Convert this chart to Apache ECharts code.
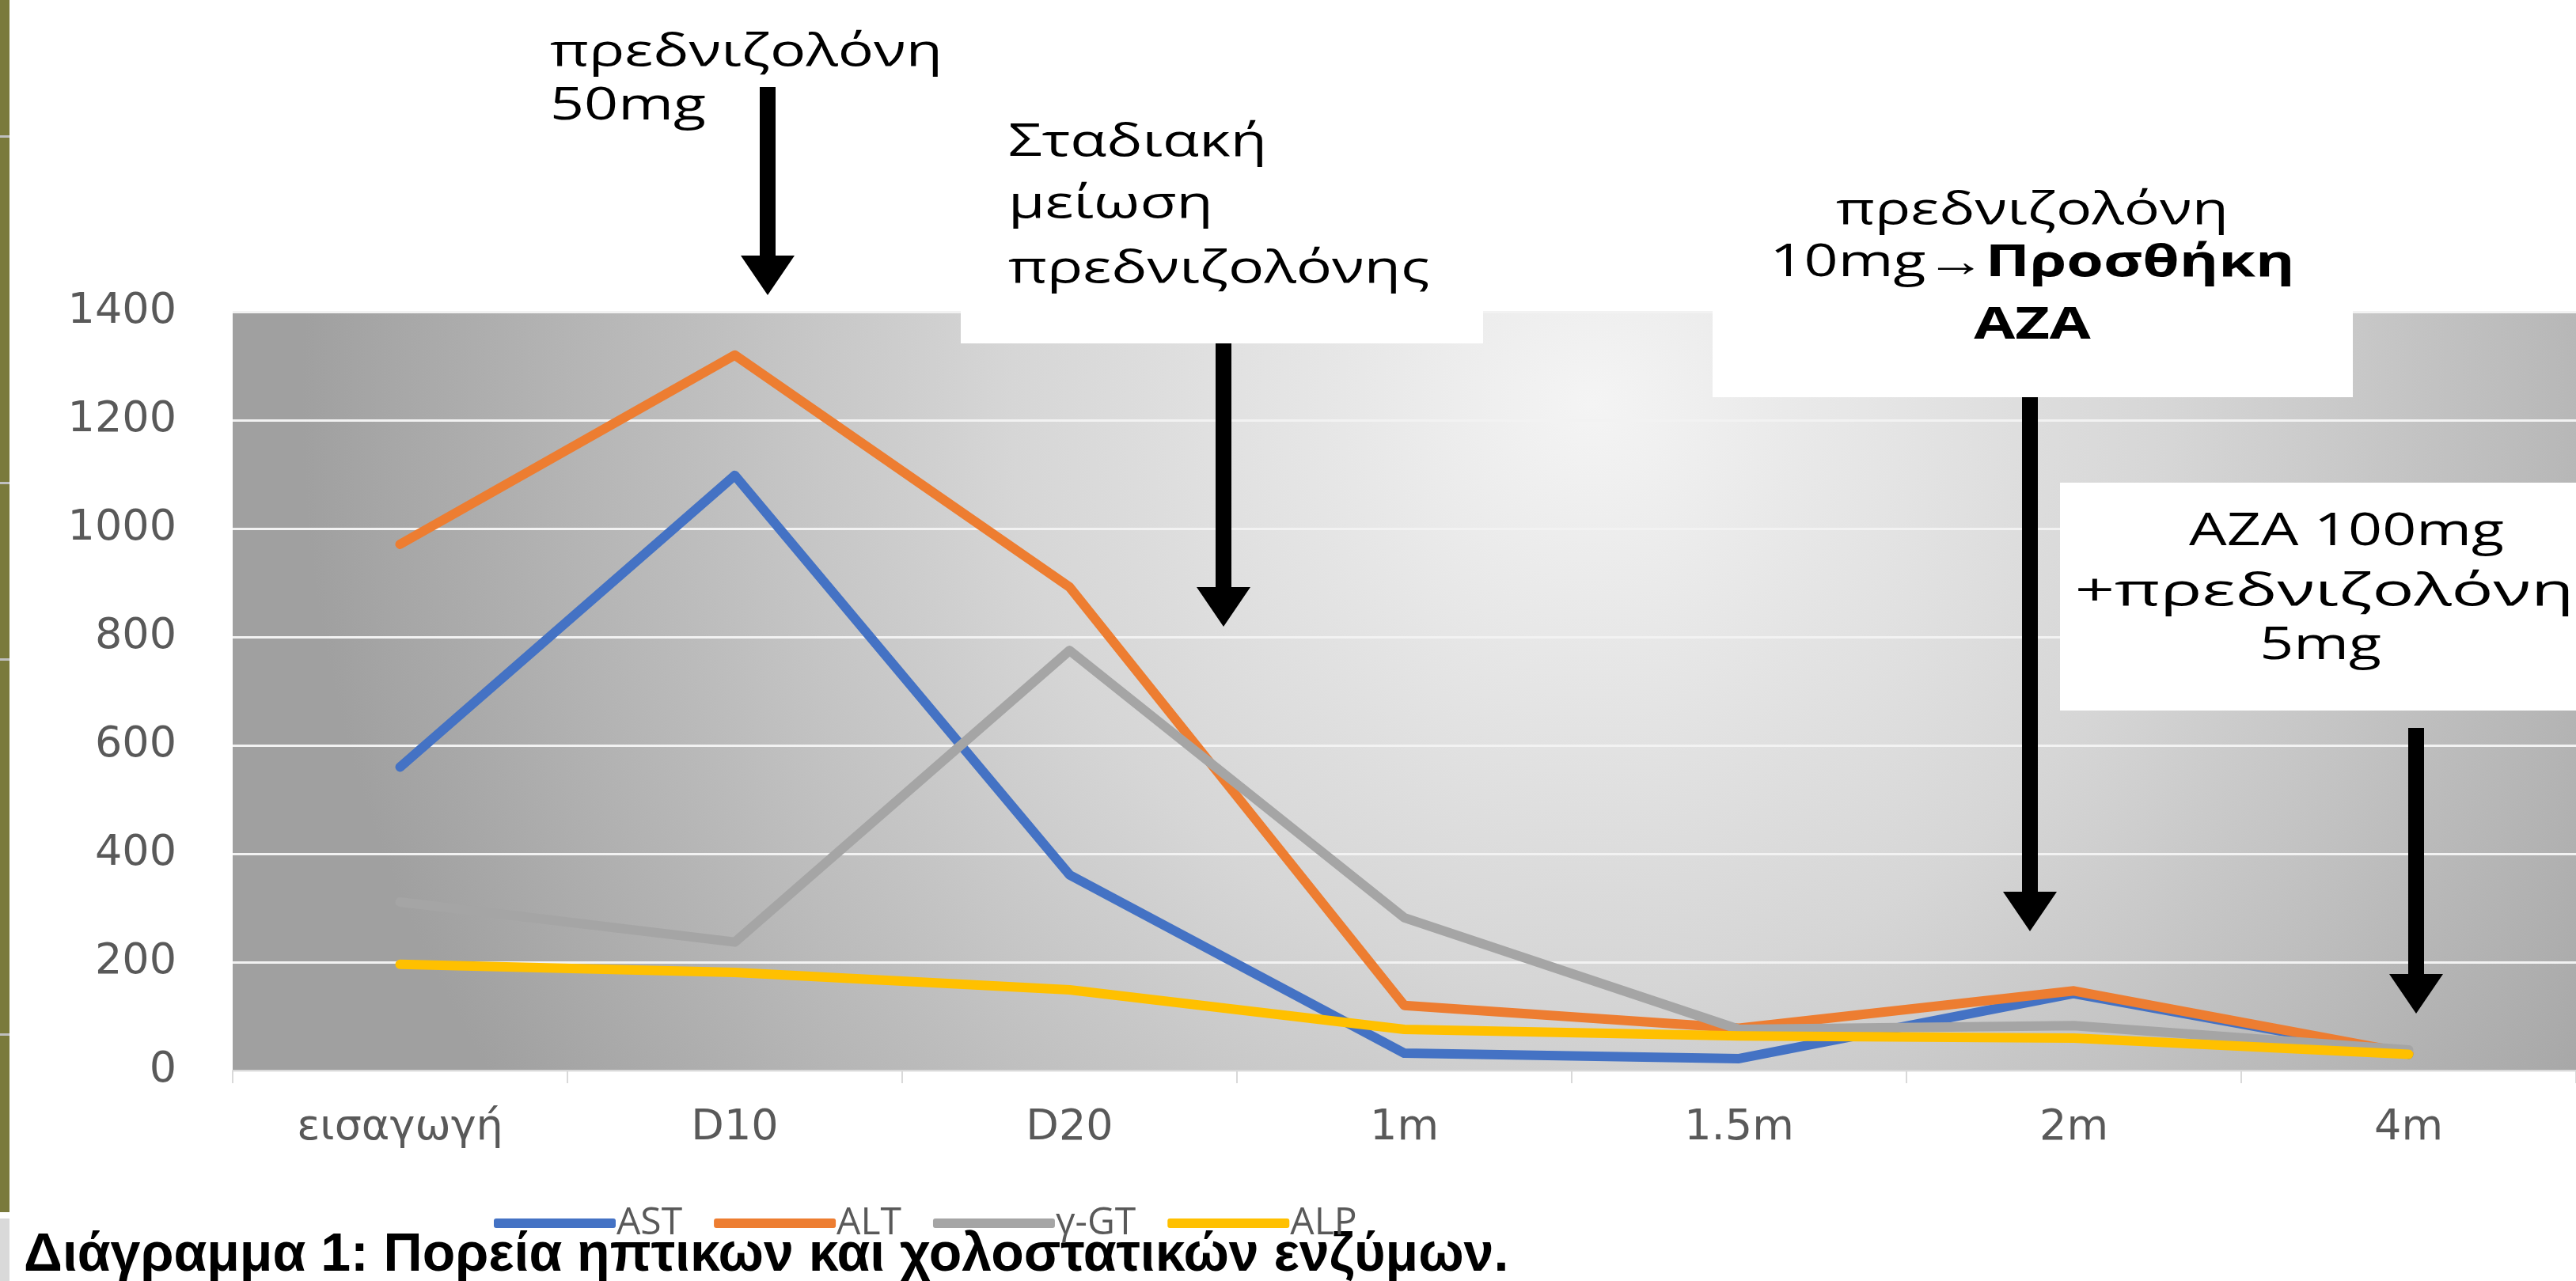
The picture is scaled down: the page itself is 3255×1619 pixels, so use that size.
<!DOCTYPE html>
<html>
<head>
<meta charset="utf-8">
<script src="https://cdn.jsdelivr.net/npm/echarts@6/dist/echarts.min.js"></script>
<style>
html,body{margin:0;padding:0;background:#fff;}
#chart{width:3255px;height:1619px;}
</style>
</head>
<body>
<div id="chart"></div>
<script>
// ---- data ----
const categories = ['εισαγωγή', 'D10', 'D20', '1m', '1.5m', '2m', '4m'];
const seriesNames = ['AST', 'ALT', 'γ-GT', 'ALP'];
const AST  = [560, 1098, 361, 32, 22, 142, 30];
const ALT  = [971, 1320, 892, 120, 78, 147, 32];
const GGT  = [311, 237, 775, 282, 76, 83, 38];
const ALP  = [196, 181, 149, 76, 64, 60, 30];
const yTicks = { min: 0, max: 1400, interval: 200 };
const captionText = 'Διάγραμμα 1: Πορεία ηπτικων και χολοστατικών ενζύμων.';
const notes = {
  n1: ['πρεδνιζολόνη', '50mg'],
  n2: ['Σταδιακή', 'μείωση', 'πρεδνιζολόνης'],
  n3: ['πρεδνιζολόνη', '10mg→', 'Προσθήκη', 'AZA'],
  n4: ['AZA 100mg', '+πρεδνιζολόνη', '5mg']
};

// ---- styling ----
const colors = ['#4472C4', '#ED7D31', '#A5A5A5', '#FFC000'];
const labelColor = '#595959';
const noteFont = 'Open Sans';
const noteSize = 56;
const ctx = document.createElement('canvas').getContext('2d');
ctx.font = noteSize + 'px "' + noteFont + '"';
const sx = 496 / ctx.measureText('πρεδνιζολόνη').width;

function noteText(x, baseline, text, align, bold, extraScale) {
  return {
    type: 'text', x: x, y: baseline - 0.33 * noteSize, scaleX: sx * (extraScale || 1), z: 30,
    style: {
      text: text, fill: '#000', fontSize: noteSize, fontFamily: noteFont,
      fontWeight: bold ? 'bold' : 'normal', align: align, verticalAlign: 'middle'
    }
  };
}
function arrow(x, top, tip) {
  const sw = 10, hw = 34, hh = 50;
  return {
    type: 'polygon', z: 25,
    shape: { points: [[x - sw, top], [x + sw, top], [x + sw, tip - hh], [x + hw, tip - hh], [x, tip], [x - hw, tip - hh], [x - sw, tip - hh]] },
    style: { fill: '#000' }
  };
}
function box(x, y, w, h) {
  return { type: 'rect', z: 20, shape: { x: x, y: y, width: w, height: h }, style: { fill: '#fff' } };
}

const chart = echarts.init(document.getElementById('chart'), null, { renderer: 'canvas' });

const graphics = [
  { type: 'rect', z: 5, shape: { x: 0, y: 0, width: 12, height: 1532 }, style: { fill: '#7A7A3C' } },
  { type: 'rect', z: 6, shape: { x: 0, y: 171, width: 12, height: 3 }, style: { fill: '#BFBFBF' } },
  { type: 'rect', z: 6, shape: { x: 0, y: 609, width: 12, height: 3 }, style: { fill: '#BFBFBF' } },
  { type: 'rect', z: 6, shape: { x: 0, y: 832, width: 12, height: 3 }, style: { fill: '#BFBFBF' } },
  { type: 'rect', z: 6, shape: { x: 0, y: 1306, width: 12, height: 3 }, style: { fill: '#BFBFBF' } },
  { type: 'rect', z: 5, shape: { x: 0, y: 1540, width: 12, height: 79 }, style: { fill: '#D9D9D9' } },
  box(1214, 360, 660, 74),
  box(2164, 360, 809, 142),
  box(2603, 610, 700, 288),
  arrow(970, 110, 373),
  arrow(1546, 434, 792),
  arrow(2565, 502, 1177),
  arrow(3053, 920, 1281),
  noteText(695, 86, notes.n1[0], 'left'),
  noteText(695, 154, notes.n1[1], 'left'),
  noteText(1274, 200, notes.n2[0], 'left'),
  noteText(1274, 278, notes.n2[1], 'left'),
  noteText(1274, 360, notes.n2[2], 'left'),
  noteText(2568, 286, notes.n3[0], 'center'),
  {
    type: 'text', x: 2568, y: 352 - 0.33 * noteSize, scaleX: sx, z: 30,
    style: {
      text: '{n|' + notes.n3[1] + '}{b|' + notes.n3[2] + '}',
      fontSize: noteSize, fontFamily: noteFont, align: 'center', verticalAlign: 'middle', fill: '#000',
      rich: {
        n: { fontSize: noteSize, fontFamily: noteFont, fill: '#000' },
        b: { fontSize: noteSize, fontFamily: noteFont, fontWeight: 'bold', fill: '#000' }
      }
    }
  },
  noteText(2568, 431, notes.n3[3], 'center', true),
  noteText(2965, 692, notes.n4[0], 'center'),
  noteText(2937, 768, notes.n4[1], 'center', false, 1.17),
  noteText(2932, 836, notes.n4[2], 'center')
];

const data = [AST, ALT, GGT, ALP];
const option = {
  animation: false,
  backgroundColor: '#ffffff',
  color: colors,
  title: {
    text: captionText, left: 30, top: 1553, padding: 0, z: 4,
    textStyle: { fontFamily: 'Liberation Sans', fontWeight: 'bold', fontSize: 68, color: '#000' }
  },
  legend: {
    data: seriesNames, left: 619, top: 1517, z: 12,
    icon: 'roundRect', itemWidth: 154, itemHeight: 12, itemGap: 40,
    textStyle: { color: labelColor, fontSize: 48, fontFamily: 'Open Sans', padding: [0, 0, 0, -4] }
  },
  grid: {
    left: 294, top: 394, width: 2975, height: 959, show: true, borderWidth: 0,
    backgroundColor: {
      type: 'radial', x: 0.58, y: 0.12, r: 1.7,
      colorStops: [
        { offset: 0, color: '#F4F4F4' },
        { offset: 0.45, color: '#D6D6D6' },
        { offset: 1, color: '#A0A0A0' }
      ]
    }
  },
  xAxis: {
    type: 'category', data: categories, boundaryGap: true,
    axisLine: { show: true, lineStyle: { color: '#D9D9D9', width: 2 } },
    axisTick: { show: true, length: 16, lineStyle: { color: '#D9D9D9', width: 2 } },
    axisLabel: { color: labelColor, fontSize: 54, fontFamily: 'DejaVu Sans', margin: 46 }
  },
  yAxis: {
    type: 'value', min: yTicks.min, max: yTicks.max, interval: yTicks.interval,
    axisLine: { show: false }, axisTick: { show: false },
    axisLabel: { color: labelColor, fontSize: 54, fontFamily: 'DejaVu Sans', margin: 71,
      formatter: function (v) { return String(v); } },
    splitLine: { show: true, lineStyle: { color: '#F2F2F2', width: 3 } }
  },
  series: seriesNames.map((n, i) => ({
    name: n, type: 'line', data: data[i], showSymbol: false, symbol: 'none',
    lineStyle: { width: 12, color: colors[i], cap: 'round', join: 'round' },
    itemStyle: { color: colors[i] }, z: 3 + i
  })),
  graphic: graphics
};
chart.setOption(option);
</script>
</body>
</html>
